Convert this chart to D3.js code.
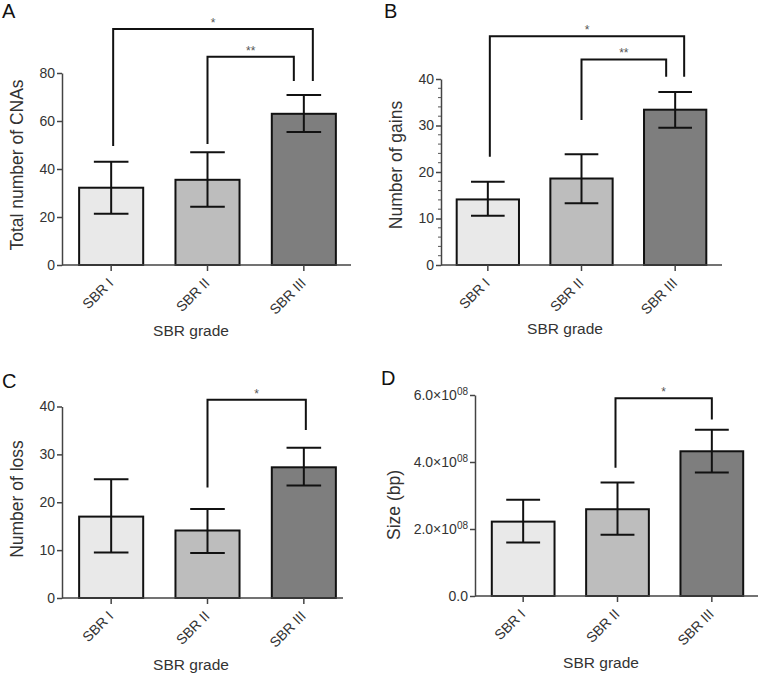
<!DOCTYPE html>
<html>
<head>
<meta charset="utf-8">
<script src="https://cdn.jsdelivr.net/npm/d3@7"></script>
<style>
  body { margin: 0; background: #fff; }
  text { font-family: "Liberation Sans", Arial, sans-serif; }
</style>
</head>
<body>
<svg id="chart" width="761" height="675"></svg>
<script>
// categories and values (mean, lower / upper error bar ends)
const categories = ['SBR I', 'SBR II', 'SBR III'];

const cnaMean = [32.2, 35.5, 63.0];
const cnaLow = [21.4, 24.3, 55.4];
const cnaHigh = [43.0, 47.0, 70.8];

const gainsMean = [14.1, 18.6, 33.4];
const gainsLow = [10.6, 13.3, 29.5];
const gainsHigh = [17.9, 23.8, 37.2];

const lossMean = [17.0, 14.1, 27.3];
const lossLow = [9.5, 9.4, 23.5];
const lossHigh = [24.8, 18.6, 31.4];

const sizeMean = [2.22e8, 2.59e8, 4.32e8];
const sizeLow = [1.60e8, 1.83e8, 3.69e8];
const sizeHigh = [2.87e8, 3.39e8, 4.96e8];

// y tick values
const cnaTicks = [0, 20, 40, 60, 80];
const gainsTicks = [0, 10, 20, 30, 40];
const lossTicks = [0, 10, 20, 30, 40];
const sizeTicks = [0, 2e8, 4e8, 6e8];

// significance brackets: [from, to, top level, left leg end, right leg end, label]
const cnaSig = [[0, 2, 98.3, 49.6, 76.7, '*'], [1, 2, 86.8, 50.4, 76.7, '**']];
const gainsSig = [[0, 2, 49.2, 23.3, 40.5, '*'], [1, 2, 44.2, 31.2, 40.5, '**']];
const lossSig = [[1, 2, 41.4, 23.1, 35.1, '*']];
const sizeSig = [[1, 2, 5.90e8, 3.83e8, 5.27e8, '*']];

const fills = ['#e9e9e9', '#bdbdbd', '#7e7e7e'];

const svg = d3.select('#chart');

const panels = [
  { letter: 'A', lx: 2, ly: 18, mean: cnaMean, low: cnaLow, high: cnaHigh, ticks: cnaTicks, sig: cnaSig,
    max: 80, x0: 62, band: [63, 352], xEnd: 351, y0: 265, yTop: 73, minor: 0,
    ylabel: 'Total number of CNAs', ylx: 23, yly: 165, xlx: 191, xly: 336, sigDx: [[2, 9], [0, -10]] },
  { letter: 'B', lx: 384, ly: 18, mean: gainsMean, low: gainsLow, high: gainsHigh, ticks: gainsTicks, sig: gainsSig,
    max: 40, x0: 441, band: [441, 722], xEnd: 722, y0: 265, yTop: 79, minor: 2,
    ylabel: 'Number of gains', ylx: 402, yly: 165, xlx: 565, xly: 334, sigDx: [[2, 9], [0, -9]] },
  { letter: 'C', lx: 2, ly: 388, mean: lossMean, low: lossLow, high: lossHigh, ticks: lossTicks, sig: lossSig,
    max: 40, x0: 62, band: [63, 352], xEnd: 343, y0: 598, yTop: 406.5, minor: 0,
    ylabel: 'Number of loss', ylx: 23, yly: 499, xlx: 191, xly: 670, sigDx: [[0, 2]] },
  { letter: 'D', lx: 381, ly: 385, mean: sizeMean, low: sizeLow, high: sizeHigh, ticks: sizeTicks, sig: sizeSig,
    max: 6e8, x0: 475, band: [476, 759], xEnd: 758, y0: 596, yTop: 395, minor: 0, sci: true,
    ylabel: 'Size (bp)', ylx: 400, yly: 505, xlx: 601, xly: 668, sigDx: [[-2, 0]] }
];

function drawPanel(p) {
  const g = svg.append('g');

  const x = d3.scaleBand().domain(categories).range(p.band)
    .paddingInner(0.335).paddingOuter(0.1675);
  const y = d3.scaleLinear().domain([0, p.max]).range([p.y0, p.yTop]);

  // bars
  g.selectAll('rect.bar').data(categories).join('rect')
    .attr('class', 'bar')
    .attr('x', d => x(d))
    .attr('y', (d, i) => y(p.mean[i]))
    .attr('width', x.bandwidth())
    .attr('height', (d, i) => y(0) - y(p.mean[i]))
    .attr('fill', (d, i) => fills[i])
    .attr('stroke', '#111')
    .attr('stroke-width', 2);

  // error bars
  const cap = x.bandwidth() * 0.27;
  categories.forEach((c, i) => {
    const cx = x(c) + x.bandwidth() / 2;
    g.append('line').attr('x1', cx).attr('x2', cx)
      .attr('y1', y(p.low[i])).attr('y2', y(p.high[i]));
    [p.low[i], p.high[i]].forEach(v => {
      g.append('line').attr('x1', cx - cap).attr('x2', cx + cap)
        .attr('y1', y(v)).attr('y2', y(v));
    });
  });

  // significance brackets
  p.sig.forEach((s, k) => {
    const xl = x(categories[s[0]]) + x.bandwidth() / 2 + p.sigDx[k][0];
    const xr = x(categories[s[1]]) + x.bandwidth() / 2 + p.sigDx[k][1];
    g.append('path')
      .attr('d', `M${xl},${y(s[3])}V${y(s[2])}H${xr}V${y(s[4])}`)
      .attr('fill', 'none');
    g.append('text')
      .attr('x', (xl + xr) / 2).attr('y', y(s[2]) - 2)
      .attr('text-anchor', 'middle')
      .attr('font-size', 12).attr('fill', '#555')
      .text(s[5]);
  });

  g.selectAll('line, path').filter(function () { return !this.getAttribute('stroke'); })
    .attr('stroke', '#111').attr('stroke-width', 2);

  // y axis
  const yAxis = d3.axisLeft(y).tickValues(p.ticks).tickSize(5).tickPadding(2).tickSizeOuter(0);
  if (p.sci) yAxis.tickFormat(() => '');
  const ya = g.append('g').attr('transform', `translate(${p.x0},0)`).call(yAxis);
  ya.select('.domain').attr('stroke', '#444').attr('stroke-width', 1.5);
  ya.selectAll('.tick line').attr('stroke', '#444').attr('stroke-width', 1.5);
  ya.selectAll('.tick text').attr('font-size', 14).attr('fill', '#333')
    .attr('font-family', '"Liberation Sans", Arial, sans-serif');
  if (p.sci) {
    ya.selectAll('.tick text').each(function (d) {
      const t = d3.select(this).attr('font-size', 14);
      if (d === 0) { t.text('0.0'); return; }
      const e = Math.floor(Math.log10(d));
      t.append('tspan').text((d / Math.pow(10, e)).toFixed(1) + '\u00d710');
      t.append('tspan').attr('font-size', 10).attr('dy', -5).text(d3.format('02d')(e));
    });
  }
  if (p.minor) {
    const minorTicks = d3.range(0, p.max + 1e-9, p.minor).filter(v => !p.ticks.includes(v));
    g.selectAll('line.minor').data(minorTicks).join('line')
      .attr('class', 'minor')
      .attr('x1', p.x0 - 3).attr('x2', p.x0)
      .attr('y1', d => y(d)).attr('y2', d => y(d))
      .attr('stroke', '#555').attr('stroke-width', 1);
  }

  // x axis
  const xa = g.append('g').attr('transform', `translate(0,${p.y0})`)
    .call(d3.axisBottom(x).tickSize(6).tickSizeOuter(0).tickPadding(4));
  xa.select('.domain').remove();
  xa.selectAll('.tick line').attr('stroke', '#444').attr('stroke-width', 1.5);
  xa.selectAll('.tick text')
    .attr('font-size', 14).attr('fill', '#333')
    .attr('font-family', '"Liberation Sans", Arial, sans-serif')
    .attr('text-anchor', 'end')
    .attr('dy', 0)
    .attr('transform', 'translate(3,19) rotate(-45)')
    .attr('y', 0).attr('x', 0);
  g.append('line')
    .attr('x1', p.x0).attr('x2', p.xEnd)
    .attr('y1', p.y0).attr('y2', p.y0)
    .attr('stroke', '#444').attr('stroke-width', 1.5);

  // axis titles
  g.append('text')
    .attr('transform', `translate(${p.ylx},${p.yly}) rotate(-90)`)
    .attr('text-anchor', 'middle')
    .attr('font-size', 17.5).attr('fill', '#333')
    .text(p.ylabel);
  g.append('text')
    .attr('x', p.xlx).attr('y', p.xly)
    .attr('text-anchor', 'middle')
    .attr('font-size', 15.5).attr('fill', '#333')
    .text('SBR grade');

  // panel letter
  g.append('text')
    .attr('x', p.lx).attr('y', p.ly)
    .attr('font-size', 20).attr('fill', '#111')
    .text(p.letter);
}

panels.forEach(drawPanel);
</script>
</body>
</html>
